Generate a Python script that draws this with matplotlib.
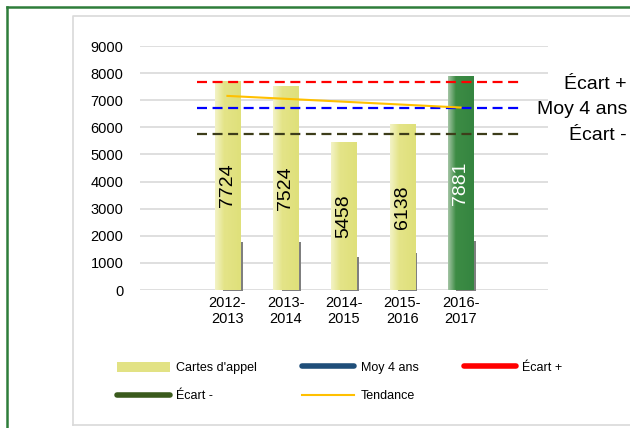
import numpy as np
import matplotlib.pyplot as plt
from matplotlib.patches import Rectangle, Patch
from matplotlib.lines import Line2D
from matplotlib.colors import LinearSegmentedColormap
import matplotlib.transforms as mtransforms

plt.rcParams['font.family'] = ['Liberation Sans', 'DejaVu Sans']

seasons = ["2012-\n2013", "2013-\n2014", "2014-\n2015", "2015-\n2016", "2016-\n2017"]
calls = [7724, 7524, 5458, 6138, 7881]
shadow = [1800, 1800, 1250, 1400, 1850]
trend = [7159, 7052, 6945, 6838, 6731]
moy_4ans = 6711
ecart_plus = 7658
ecart_minus = 5764

fig = plt.figure(figsize=(6.3, 4.28), dpi=100)
ax = fig.add_axes([140 / 630, 1 - 290 / 428, 408 / 630, 244 / 428])

x = np.arange(len(calls))
bar_w = 0.43

yellow_cmap = LinearSegmentedColormap.from_list(
    "yel", [(0, "#f3f3c6"), (0.35, "#e4e488"), (1, "#dfe07a")])
green_cmap = LinearSegmentedColormap.from_list(
    "grn", [(0, "#a3c4a3"), (0.3, "#3d8c45"), (1, "#358540")])
grad = np.linspace(0, 1, 64).reshape(1, -1)

# grey shadow bars behind
ax.bar(x + 0.095, shadow, width=0.33, bottom=-40, color="#7f7f7f", zorder=2, clip_on=False)

for i, v in enumerate(calls):
    cmap = green_cmap if i == len(calls) - 1 else yellow_cmap
    rect = Rectangle((x[i] - bar_w / 2, 0), bar_w, v, facecolor="none",
                     edgecolor="none", zorder=3)
    ax.add_patch(rect)
    im = ax.imshow(grad, cmap=cmap, aspect="auto", zorder=3,
                   extent=(x[i] - bar_w / 2, x[i] + bar_w / 2, 0, v))
    im.set_clip_path(rect)
    ax.text(x[i], v / 2, str(v), rotation=90, ha="center", va="center",
            fontsize=14, color="white" if i == len(calls) - 1 else "black", zorder=5)

ax.hlines(ecart_plus, -0.53, 5.02, colors="#ff0000", linestyles=(0, (4.5, 2.5)), lw=1.6, zorder=4)
ax.hlines(moy_4ans, -0.53, 5.02, colors="#0000ff", linestyles=(0, (4.5, 2.5)), lw=1.6, zorder=4)
ax.hlines(ecart_minus, -0.53, 5.02, colors="#3d3d1a", linestyles=(0, (4.5, 2.5)), lw=1.6, zorder=4)
ax.plot(x, trend, color="#ffc000", lw=1.5, zorder=4)

ax.set_xlim(-1.5, 5.5)
ax.set_ylim(0, 9000)
ax.set_yticks(range(0, 9001, 1000))
ax.set_xticks(x)
ax.set_xticklabels(seasons, fontsize=10.5, linespacing=1.25)
ax.tick_params(axis="y", length=0, pad=12, labelsize=10.5)
ax.tick_params(axis="x", length=0, pad=4)
ax.grid(axis="y", color="#d9d9d9", lw=1.2, zorder=0)
ax.set_axisbelow(True)
for s in ax.spines.values():
    s.set_visible(False)

trans = mtransforms.blended_transform_factory(fig.transFigure, ax.transData)
for val, lab in [(ecart_plus, "Écart +"), (moy_4ans, "Moy 4 ans"), (ecart_minus, "Écart -")]:
    ax.text(627 / 630, val - 60, lab, transform=trans, ha="right", va="center",
            fontsize=14, clip_on=False)

handles = [
    Patch(facecolor="#e2e284", edgecolor="none", label="Cartes d'appel"),
    Line2D([], [], color="#3a5a1c", lw=4, solid_capstyle="round", label="Écart -"),
    Line2D([], [], color="#1f4e79", lw=4, solid_capstyle="round", label="Moy 4 ans"),
    Line2D([], [], color="#ffc000", lw=1.5, label="Tendance"),
    Line2D([], [], color="#ff0000", lw=4, solid_capstyle="round", label="Écart +"),
]
fig.legend(handles=handles, ncol=3, loc="center left", bbox_to_anchor=(106 / 630, 1 - 382 / 428),
           frameon=False, fontsize=9, handlelength=4.2, handleheight=0.9, handletextpad=0.5,
           columnspacing=3.6, labelspacing=1.25)

# outer frames
fig.add_artist(Line2D([7 / 630, 7 / 630], [0, 1 - 7 / 428], color="#2e7d3a", lw=1.8,
                      transform=fig.transFigure))
fig.add_artist(Line2D([7 / 630, 1], [1 - 7 / 428, 1 - 7 / 428], color="#2e7d3a", lw=1.8,
                      transform=fig.transFigure))
fig.add_artist(Line2D([73 / 630, 73 / 630, 1], [1 - 425 / 428, 1 - 16 / 428, 1 - 16 / 428],
                      color="#d9d9d9", lw=1.2, transform=fig.transFigure))
fig.add_artist(Line2D([73 / 630, 1], [1 - 425 / 428, 1 - 425 / 428],
                      color="#d9d9d9", lw=1.2, transform=fig.transFigure))

fig.savefig("out.png", dpi=100)
